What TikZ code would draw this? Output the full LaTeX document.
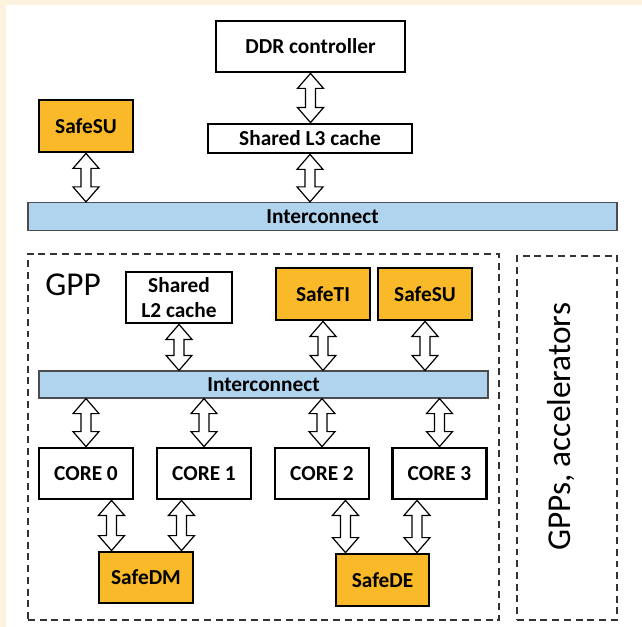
\documentclass[tikz,border=0pt]{standalone}
\usepackage{fontspec}
\setmainfont{Carlito}
\usepackage{tikz}
\usetikzlibrary{calc}

\definecolor{safeorange}{RGB}{249,185,40}
\definecolor{icblue}{RGB}{176,211,238}
\definecolor{pagecream}{RGB}{253,242,222}

\tikzset{
  size/.style 2 args={minimum width=#1*0.75pt, minimum height=#2*0.75pt},
  blk/.style={draw, line width=2.1pt, fill=white, inner sep=0pt,
    font=\fontsize{16}{19}\selectfont\bfseries, align=center},
  safe/.style={blk, fill=safeorange},
  bus/.style={draw=black!70, line width=0.9pt, fill=icblue, inner sep=0pt,
    font=\fontsize{16}{19}\selectfont\bfseries},
  region/.style={draw=black!80, line width=1.1pt, inner sep=0pt,
    dash pattern=on 5.2pt off 3.6pt},
  biarrow/.style={draw, fill=white, line width=0.9pt, line join=miter,
    to path={let \p1=(\tikztostart), \p2=(\tikztotarget) in
      -- (\x1+9.75pt,\y1-11.25pt) -- (\x1+3.75pt,\y1-11.25pt)
      -- (\x1+3.75pt,\y2+11.25pt) -- (\x1+9.75pt,\y2+11.25pt)
      -- (\x1,\y2)
      -- (\x1-9.75pt,\y2+11.25pt) -- (\x1-3.75pt,\y2+11.25pt)
      -- (\x1-3.75pt,\y1-11.25pt) -- (\x1-9.75pt,\y1-11.25pt) -- cycle}}
}

\begin{document}
\begin{tikzpicture}[x=0.75pt,y=-0.75pt]
% page
\useasboundingbox (0,0) rectangle (642,627);
\fill[pagecream] (0,0) rectangle (642,627);
\fill[white] (6,5) rectangle (642,627);
% top level
\node (ddr) [blk, size={189}{51}] at (310.5,46.5) {DDR controller};
\node (l3) [blk, size={204}{29}] at (310,138.5) {Shared L3 cache};
\node (su1) [safe, size={94}{52}] at (86,126) {SafeSU};
\node (ic1) [bus, size={589}{28}] at (322.5,216.5) {Interconnect};
% regions
\node (gpp) [region, size={471}{366}] at (263.5,437) {};
\node (acc) [region, size={100}{364}] at (567,438) {};
\node (gpplbl) [anchor=base west, inner sep=0pt, font=\fontsize{25}{30}\selectfont] at (45,295) {GPP};
\node (acclbl) [rotate=90, inner sep=0pt, font=\fontsize{25}{30}\selectfont] at (561,427) {GPPs, accelerators};
% GPP blocks
\node (l2) [blk, size={106}{51}] at (179,297.5) {Shared\\L2 cache};
\node (ti) [safe, size={94}{52}] at (323,294) {SafeTI};
\node (su2) [safe, size={94}{52}] at (425,294) {SafeSU};
\node (ic2) [bus, size={449}{27}] at (263.5,384.5) {Interconnect};
\node (core0) [blk, size={94}{51}] at (86,473.5) {CORE 0};
\node (core1) [blk, size={94}{51}] at (204,473.5) {CORE 1};
\node (core2) [blk, size={94}{51}] at (322,473.5) {CORE 2};
\node (core3) [blk, size={94}{51}] at (439.5,473.5) {CORE 3};
\node (dm) [safe, size={94}{51}] at (146,577.5) {SafeDM};
\node (de) [safe, size={93}{52}] at (382.5,580) {SafeDE};
% arrows
\draw [biarrow] (ddr.south) to (l3.north);
\draw [biarrow] (l3.south) to (l3.south |- ic1.north);
\draw [biarrow] (su1.south) to (su1.south |- ic1.north);
\draw [biarrow] (l2.south) to (l2.south |- ic2.north);
\draw [biarrow] (ti.south) to (ti.south |- ic2.north);
\draw [biarrow] (su2.south) to (su2.south |- ic2.north);
\foreach \c in {core0,core1,core2,core3}
  \draw [biarrow] (\c.north |- ic2.south) to (\c.north);
\coordinate (dmA) at ($(dm.north)+(-34.5,0)$);
\coordinate (dmB) at ($(dm.north)+(35.5,0)$);
\coordinate (deA) at ($(de.north)+(-37,0)$);
\coordinate (deB) at ($(de.north)+(34.5,0)$);
\draw [biarrow] (dmA |- core0.south) to (dmA);
\draw [biarrow] (dmB |- core1.south) to (dmB);
\draw [biarrow] (deA |- core2.south) to (deA);
\draw [biarrow] (deB |- core3.south) to (deB);
\end{tikzpicture}
\end{document}
